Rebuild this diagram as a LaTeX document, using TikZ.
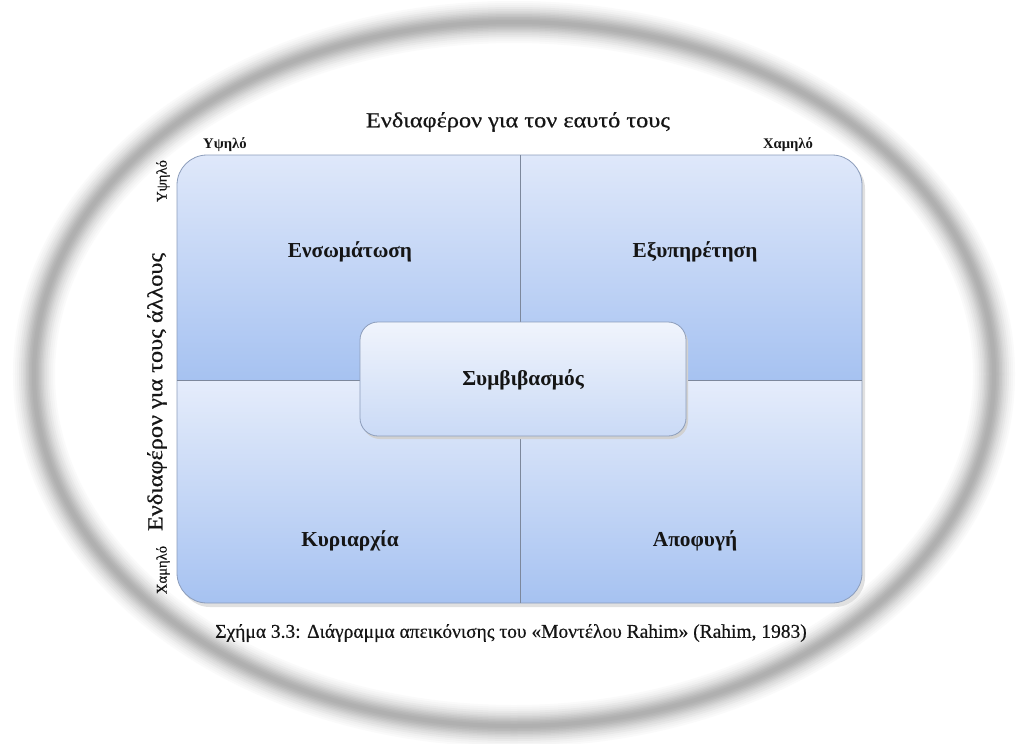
\documentclass[tikz,border=0pt]{standalone}
\usepackage{fontspec}
\setmainfont{Liberation Serif}
\newfontfamily\wfont[FakeStretch=1.14,FakeBold=0.6]{Liberation Serif}
\newfontfamily\cfont[FakeBold=0.5]{Liberation Serif}
\usetikzlibrary{shadows,fadings}
\definecolor{qtop}{HTML}{DFE8FA}
\definecolor{qbot}{HTML}{A6C2F1}
\definecolor{ctop}{HTML}{F0F4FC}
\definecolor{cbot}{HTML}{CADAF6}
\definecolor{edge}{HTML}{8C9DBB}
\definecolor{divl}{HTML}{7D889C}
\definecolor{txt}{HTML}{151515}
\tikzset{
  lbl/.style={font=\fontsize{16}{18}\selectfont\bfseries, text=txt},
  axis/.style={font=\wfont\fontsize{16}{18}\selectfont, text=txt},
  capt/.style={font=\cfont\fontsize{14.6}{17}\selectfont, text=txt},
  corner/.style={font=\fontsize{11}{13}\selectfont\bfseries, text=txt},
  vcorner/.style={font=\cfont\fontsize{11}{12}\selectfont, text=txt, rotate=90},
  vaxis/.style={font=\wfont\fontsize{16}{18}\selectfont, text=txt, rotate=90},
}
\begin{document}
\begin{tikzpicture}[x=0.75pt,y=-0.75pt]
\useasboundingbox (0,0) rectangle (1021,743);
\fill[white] (0,0) rectangle (1021,743);
% ring
\foreach \w/\c in {42/2,38/4,34/6,30/9,26/12,22/15,19/18,16/21,13/24,10/27,7/29,4/31}{
  \draw[line width=\w*0.75pt, black!\c] (514,374) ellipse [x radius=480, y radius=352];
}
% shadow of main
\fill[black!12, rounded corners=22.5pt] (180,159) rectangle (865,607);
% quadrants
\begin{scope}
\clip[rounded corners=22.5pt] (177,155) rectangle (862,603);
\shade[top color=qtop, bottom color=qbot] (177,155) rectangle (520,380);
\shade[top color=qtop, bottom color=qbot] (520,155) rectangle (862,380);
\shade[top color=qtop!80!white, bottom color=qbot] (177,380) rectangle (520,603);
\shade[top color=qtop!80!white, bottom color=qbot] (520,380) rectangle (862,603);
\end{scope}
\draw[edge, line width=0.6pt, rounded corners=22.5pt] (177,155) rectangle (862,603);
\coordinate (tm) at (520,155);
\coordinate (bm) at (520,603);
\coordinate (lm) at (177,380);
\coordinate (rm) at (862,380);
\draw[divl, line width=0.6pt] (tm) -- (bm);
\draw[divl, line width=0.6pt] (lm) -- (rm);
% center box
\fill[black!18, rounded corners=13.5pt] (362,325) rectangle (688,439);
\shade[top color=ctop, bottom color=cbot, rounded corners=13.5pt] (360,322) rectangle (686,436);
\draw[edge, line width=0.6pt, rounded corners=13.5pt] (360,322) rectangle (686,436);
\node[lbl] (c) at (523,380) {Συμβιβασμός};
% quadrant labels
\node[lbl] (q1) at (350,252) {Ενσωμάτωση};
\node[lbl] (q2) at (695,252) {Εξυπηρέτηση};
\node[lbl] (q3) at (350,541) {Κυριαρχία};
\node[lbl] (q4) at (695,541) {Αποφυγή};
% axes
\node[axis] (tx) at (518,122) {Ενδιαφέρον για τον εαυτό τους};
\node[corner] (th) at (225,145) {Υψηλό};
\node[corner] (tl) at (788,145) {Χαμηλό};
\node[vaxis] (vx) at (157,392) {Ενδιαφέρον για τους άλλους};
\node[vcorner] (vh) at (163,181) {Υψηλό};
\node[vcorner] (vl) at (163,570) {Χαμηλό};
% caption
\node[capt] (cap) at (511,633) {Σχήμα 3.3: Διάγραμμα απεικόνισης του «Μοντέλου Rahim» (Rahim, 1983)};
\end{tikzpicture}
\end{document}
